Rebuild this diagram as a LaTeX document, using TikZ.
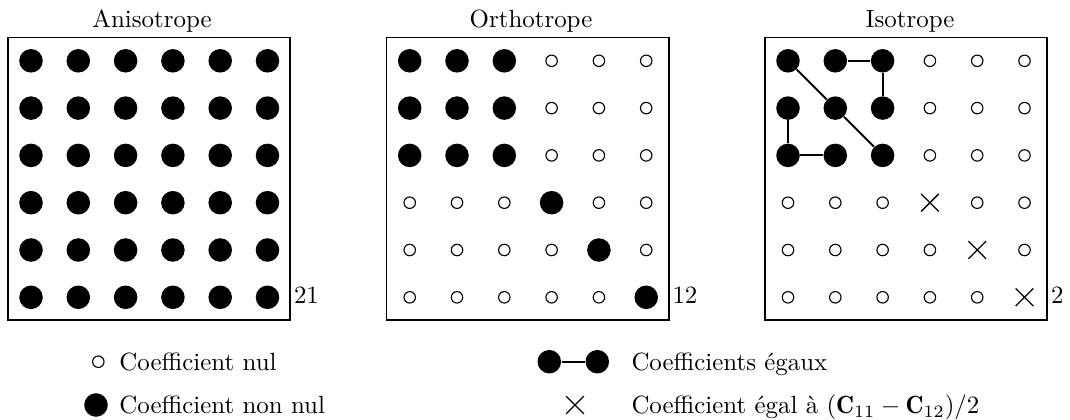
\documentclass[tikz,border=0pt]{standalone}
\usepackage{fontspec}
\usetikzlibrary{shapes.misc}
\tikzset{
  bigdot/.style={circle, fill=black, inner sep=0pt, minimum size=9.45pt},
  smalldot/.style={circle, draw=black, line width=0.45pt, inner sep=0pt, minimum size=4.6pt},
  crossmark/.style={cross out, draw=black, line width=0.5pt, inner sep=0pt, minimum size=6.6pt},
  frame/.style={draw=black, line width=0.6pt, inner sep=0pt, minimum width=113.3pt, minimum height=113.4pt},
  conn/.style={line width=0.8pt},
  txt/.style={anchor=base west, inner sep=0pt},
  title/.style={anchor=base, inner sep=0pt},
}
\begin{document}
\begin{tikzpicture}[x=0.4016pt, y=-0.4016pt]
\useasboundingbox (0,0) rectangle (1070,419);

% ---------- frames, titles, counts ----------
\node[frame] (boxA) at (149,178.6) {};
\node[frame] (boxO) at (527.7,178.6) {};
\node[frame] (boxI) at (906,178.6) {};
\node[title] (titA) at (152,27) {Anisotrope};
\node[title] (titO) at (531,27) {Orthotrope};
\node[title] (titI) at (910,27) {Isotrope};
\node[txt] (numA) at (293.5,303) {21};
\node[txt] (numO) at (672,303) {12};
\node[txt] (numI) at (1050.5,303) {2};

% ---------- Anisotrope ----------
\foreach \r in {0,...,5}{
  \foreach \c in {0,...,5}{
    \node[bigdot] (A-\r-\c) at ({8+23+47.3*\c},{37.3+23.5+47.3*\r}) {};
  }
}

% ---------- Orthotrope ----------
\foreach \r in {0,...,5}{
  \foreach \c in {0,...,5}{
    \pgfmathtruncatemacro\kind{((\r<3 && \c<3) || (\r==\c)) ? 1 : 0}
    \ifnum\kind=1
      \node[bigdot] (O-\r-\c) at ({386.7+23+47.3*\c},{37.3+23.5+47.3*\r}) {};
    \else
      \node[smalldot] (O-\r-\c) at ({386.7+23+47.3*\c},{37.3+23.5+47.3*\r}) {};
    \fi
  }
}

% ---------- Isotrope ----------
\foreach \r in {0,...,5}{
  \foreach \c in {0,...,5}{
    \pgfmathtruncatemacro\kind{(\r<3 && \c<3) ? 1 : ((\r==\c) ? 2 : 0)}
    \ifcase\kind
      \node[smalldot] (I-\r-\c) at ({765+23+47.3*\c},{37.3+23.5+47.3*\r}) {};
    \or
      \node[bigdot] (I-\r-\c) at ({765+23+47.3*\c},{37.3+23.5+47.3*\r}) {};
    \or
      \node[crossmark] (I-\r-\c) at ({765+23+47.3*\c},{37.3+23.5+47.3*\r}) {};
    \fi
  }
}
\draw[conn] (I-0-0) -- (I-1-1) -- (I-2-2);
\draw[conn] (I-0-1) -- (I-0-2) -- (I-1-2);
\draw[conn] (I-1-0) -- (I-2-0) -- (I-2-1);

% ---------- Legend ----------
\node[smalldot] (L1) at (98.3,361.7) {};
\node[txt] (T1) at (119,370) {Coefficient nul};
\node[bigdot] (L2) at (96,405) {};
\node[txt] (T2) at (119,413.3) {Coefficient non nul};
\node[bigdot] (L3a) at (549.3,361.7) {};
\node[bigdot] (L3b) at (597.3,361.7) {};
\draw[conn] (L3a) -- (L3b);
\node[txt] (T3) at (631,370) {Coefficients égaux};
\node[crossmark] (L4) at (575,405) {};
\node[txt] (T4) at (631,413.3) {Coefficient égal à $(\mathbf{C}_{11}-\mathbf{C}_{12})/2$};
\end{tikzpicture}
\end{document}
